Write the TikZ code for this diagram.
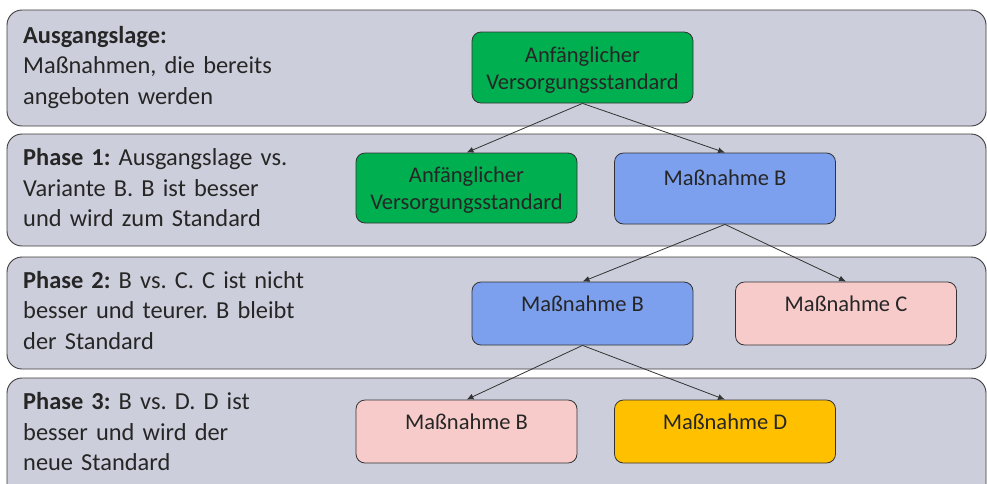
\documentclass[tikz,border=0pt]{standalone}
\usepackage{fontspec}
\setmainfont{Carlito}
\usetikzlibrary{arrows.meta}
\frenchspacing
\definecolor{bandfill}{RGB}{204,206,219}
\definecolor{bandline}{RGB}{60,60,60}
\definecolor{cgreen}{RGB}{0,176,80}
\definecolor{cblue}{RGB}{125,160,238}
\definecolor{cpink}{RGB}{248,203,203}
\definecolor{cyellow}{RGB}{255,192,0}
\definecolor{boxline}{RGB}{50,50,50}
\tikzset{
  band/.style={draw=bandline, line width=0.9pt, fill=bandfill, rounded corners=15pt},
  bandtext/.style={anchor=north west, inner sep=0pt, align=left, text width=330pt,
    font=\fontsize{24.4}{30.5}\selectfont\frenchspacing, text=black!85},
  box/.style={draw=boxline, line width=0.8pt, rounded corners=9pt, inner sep=0pt,
    minimum width=221pt},
  boxtext/.style={inner sep=0pt, align=center, font=\fontsize{22.5}{27}\selectfont, text=black!85},
  conn/.style={draw=black!80, line width=0.8pt, -{Latex[length=7pt,width=6pt]}}
}
\begin{document}
\begin{tikzpicture}[x=1pt,y=-1pt]
\useasboundingbox (0,0) rectangle (987,483);
\fill[white] (0,0) rectangle (987,483);
% bands
\draw[band] (7,10) rectangle (986,126);
\draw[band] (7,134) rectangle (986,246);
\draw[band] (7,257) rectangle (986,369);
\draw[band] (7,378) rectangle (986,500);
% band texts
\node[bandtext] (t0) at (23,26) {\textbf{Ausgangslage:}\\Maßnahmen, die bereits\\angeboten werden};
\node[bandtext] (t1) at (23,148.5) {\textbf{Phase 1:} Ausgangslage vs.\\Variante B. B ist besser\\und wird zum Standard};
\node[bandtext] (t2) at (23,271) {\textbf{Phase 2:} B vs. C. C ist nicht\\besser und teurer. B bleibt\\der Standard};
\node[bandtext] (t3) at (23,392.5) {\textbf{Phase 3:} B vs. D. D ist\\besser und wird der\\neue Standard};
% boxes
\node[box, fill=cgreen, minimum height=71pt] (n1) at (582.5,67.5) {};
\node[boxtext] (n1t) at (582.5,70) {Anfänglicher\\Versorgungsstandard};
\node[box, fill=cgreen, minimum height=70pt] (n2) at (466.5,188) {};
\node[boxtext] (n2t) at (466.5,190.5) {Anfänglicher\\Versorgungsstandard};
\node[box, fill=cblue, minimum height=71pt] (n3) at (725,188.5) {};
\node[boxtext] (n3t) at (725,177.5) {Maßnahme B};
\node[box, fill=cblue, minimum height=63pt] (n4) at (582.5,313.5) {};
\node[boxtext] (n4t) at (582.5,303.5) {Maßnahme B};
\node[box, fill=cpink, minimum height=63pt] (n5) at (846,313.5) {};
\node[boxtext] (n5t) at (846,303.5) {Maßnahme C};
\node[box, fill=cpink, minimum height=63pt] (n6) at (466.5,431.5) {};
\node[boxtext] (n6t) at (466.5,421.5) {Maßnahme B};
\node[box, fill=cyellow, minimum height=63pt] (n7) at (725,431.5) {};
\node[boxtext] (n7t) at (725,421.5) {Maßnahme D};
% connectors
\draw[conn] (n1.south) -- (n2.north);
\draw[conn] (n1.south) -- (n3.north);
\draw[conn] (n3.south) -- (n4.north);
\draw[conn] (n3.south) -- (n5.north);
\draw[conn] (n4.south) -- (n6.north);
\draw[conn] (n4.south) -- (n7.north);
\end{tikzpicture}
\end{document}
